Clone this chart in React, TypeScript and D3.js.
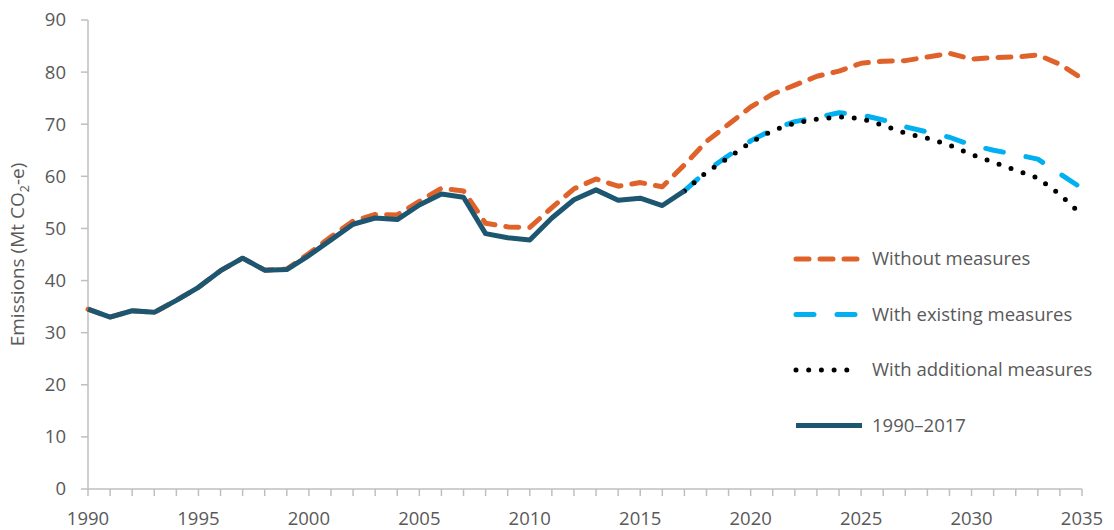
import React from 'react';
import * as d3 from 'd3';

// data
const histYears = d3.range(1990, 2018);
const histValues = [
  34.5, 33.0, 34.2, 33.9, 36.2, 38.7, 41.9, 44.3, 42.0, 42.1,
  44.8, 47.8, 50.8, 52.0, 51.7, 54.5, 56.6, 56.0, 49.0, 48.2,
  47.8, 52.0, 55.5, 57.4, 55.4, 55.8, 54.4, 57.2,
];

const withoutYears = d3.range(1990, 2036);
const withoutValues = [
  34.5, 33.0, 34.2, 33.9, 36.2, 38.7, 41.9, 44.3, 42.0, 42.2,
  45.2, 48.4, 51.4, 52.7, 52.6, 55.2, 57.7, 57.2, 51.0, 50.3,
  50.2, 54.0, 57.6, 59.5, 58.1, 58.8, 58.0, 62.2, 66.7, 70.0,
  73.3, 75.8, 77.5, 79.2, 80.2, 81.7, 82.1, 82.2, 82.9, 83.6,
  82.5, 82.8, 82.9, 83.3, 81.5, 78.8,
];

const projYears = d3.range(2017, 2036);
const existingValues = [
  57.2, 61.0, 64.0, 66.8, 69.0, 70.5, 71.3, 72.2, 71.8, 70.8,
  69.5, 68.5, 67.5, 66.0, 65.0, 64.2, 63.3, 60.5, 57.7,
];
const additionalValues = [
  57.2, 60.8, 63.6, 66.5, 68.8, 70.2, 71.0, 71.4, 71.1, 69.8,
  68.3, 67.3, 66.0, 64.2, 62.7, 61.2, 59.7, 56.5, 52.6,
];

const xTickLabels = d3.range(1990, 2036, 5);
const yTickLabels = d3.range(0, 91, 10);

const legendLabels = [
  'Without measures',
  'With existing measures',
  'With additional measures',
  '1990\u20132017',
];

const W = 1114;
const H = 530;
const font = 'Open Sans, sans-serif';
const fontSize = 18.5;
const textColor = '#595959';
const axisColor = '#bfbfbf';

const styles = [
  {stroke: '#e0622b', dash: '13 11', width: 5},
  {stroke: '#00b0f0', dash: '18 23', width: 5},
  {stroke: '#000000', dash: '0 12.7', width: 5},
  {stroke: '#1d5670', dash: null, width: 5},
];

export default function App() {
  const x = d3.scaleLinear().domain([1990, 2035]).range([88, 1082]);
  const y = d3.scaleLinear().domain([0, 90]).range([489, 20]);

  const line = d3
    .line<[number, number]>()
    .x(d => x(d[0]))
    .y(d => y(d[1]));

  const zip = (years: number[], vals: number[]) =>
    years.map((yr, i) => [yr, vals[i]] as [number, number]);

  const series = [
    zip(withoutYears, withoutValues),
    zip(projYears, existingValues),
    zip(projYears, additionalValues),
    zip(histYears, histValues),
  ];

  return (
    <svg
      width={W}
      height={H}
      style={{position: 'absolute', left: 0, top: 0, background: '#fff'}}
    >
      {/* y axis */}
      <line x1={x(1990)} x2={x(1990)} y1={y(0)} y2={y(90)} stroke={axisColor} strokeWidth={1.5} />
      {yTickLabels.map(t => (
        <g key={'y' + t}>
          <line x1={x(1990) - 7} x2={x(1990)} y1={y(t)} y2={y(t)} stroke={axisColor} strokeWidth={1.5} />
          <text
            x={66}
            y={y(t)}
            dy="0.35em"
            textAnchor="end"
            fontFamily={font}
            fontSize={fontSize}
            fill={textColor}
          >
            {t}
          </text>
        </g>
      ))}

      {/* x axis */}
      <line x1={x(1990)} x2={x(2035)} y1={y(0)} y2={y(0)} stroke={axisColor} strokeWidth={1.5} />
      {d3.range(1990, 2036).map(yr => (
        <line key={'xt' + yr} x1={x(yr)} x2={x(yr)} y1={y(0)} y2={y(0) + 7} stroke={axisColor} strokeWidth={1.5} />
      ))}
      {xTickLabels.map(yr => (
        <text
          key={'xl' + yr}
          x={x(yr)}
          y={525}
          textAnchor="middle"
          fontFamily={font}
          fontSize={fontSize}
          fill={textColor}
        >
          {yr}
        </text>
      ))}

      {/* axis title */}
      <text
        transform={`translate(24,${y(45)}) rotate(-90)`}
        textAnchor="middle"
        fontFamily={font}
        fontSize={19}
        fill={textColor}
      >
        Emissions (Mt CO
        <tspan fontSize={12.5} dy={5}>2</tspan>
        <tspan dy={-5}>-e)</tspan>
      </text>

      {/* series */}
      {series.map((s, i) => (
        <path
          key={'s' + i}
          d={line(s) || ''}
          fill="none"
          stroke={styles[i].stroke}
          strokeWidth={styles[i].width}
          strokeDasharray={styles[i].dash || undefined}
          strokeLinecap={styles[i].dash ? 'round' : 'butt'}
          strokeLinejoin="round"
        />
      ))}

      {/* legend */}
      {legendLabels.map((lab, i) => {
        const ly = 259 + i * 55.5;
        return (
          <g key={'lg' + i}>
            <line
              x1={796}
              x2={i === 3 ? 862 : 857}
              y1={ly}
              y2={ly}
              stroke={styles[i].stroke}
              strokeWidth={styles[i].width}
              strokeDasharray={styles[i].dash || undefined}
              strokeLinecap={styles[i].dash ? 'round' : 'butt'}
            />
            <text
              x={872}
              y={ly}
              dy="0.35em"
              fontFamily={font}
              fontSize={fontSize}
              fill={textColor}
            >
              {lab}
            </text>
          </g>
        );
      })}
    </svg>
  );
}
